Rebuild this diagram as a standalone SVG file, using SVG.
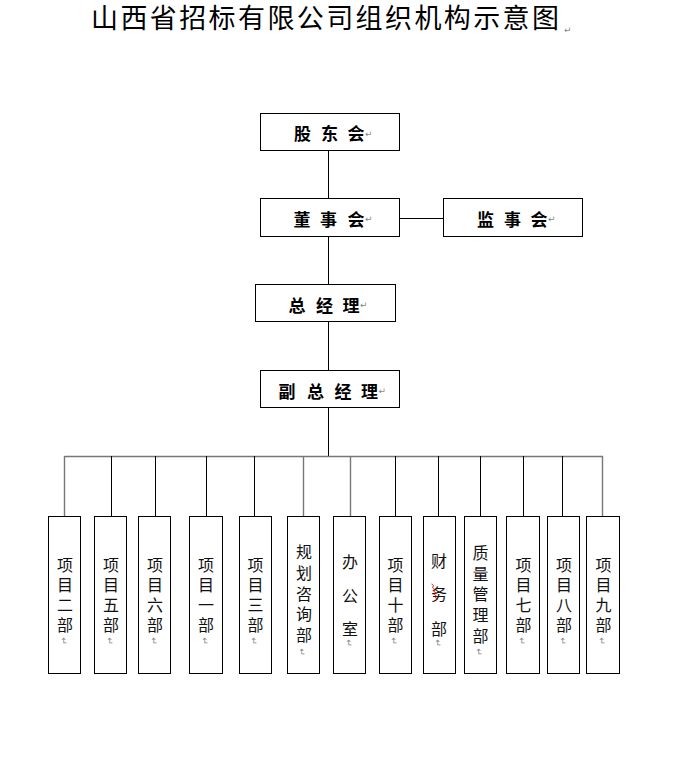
<svg xmlns="http://www.w3.org/2000/svg" width="674" height="762" viewBox="0 0 674 762">
<style>
.box{fill:#fff;stroke:#000;stroke-width:1}
.ln{stroke:#000;stroke-width:1;fill:none}
.lg{stroke:#777;stroke-width:1.4;fill:none}
.title{font-family:"Noto Sans CJK SC","Noto Sans CJK JP",sans-serif;font-size:27px;fill:#000;letter-spacing:2.4px}
.hd{font-family:"Noto Sans CJK SC","Noto Sans CJK JP",sans-serif;font-size:17px;font-weight:bold;fill:#000}
.vt{font-family:"Noto Sans CJK SC","Noto Sans CJK JP",sans-serif;font-size:16px;fill:#111}
.pm{font-family:"DejaVu Sans",sans-serif;font-size:9px;fill:#888}
</style>
<rect width="674" height="762" fill="#fff"/>
<g id="title">
<text class="title" x="91" y="16" dominant-baseline="central">山西省招标有限公司组织机构示意图</text>
<text class="pm" x="564" y="33">↵</text>
</g>
<g id="connectors">
<path class="ln" d="M328.5 150V198 M399.5 218.5H443.5 M328.5 237V284 M328.5 322V370 M328.5 408V456"/>
<path class="lg" d="M64.5 456.5H603"/>
<path class="lg" d="M64.5 456V516 M303.5 456V516 M350.5 456V516 M602.5 456V516"/>
<path class="ln" d="M111.5 456V516 M155.5 456V516 M206.5 456V516 M254.5 456V516 M395.5 456V516 M438.5 456V516 M480.5 456V516 M523.5 456V516 M562.5 456V516"/>
</g>
<g id="n-gudonghui">
<rect class="box" x="260.5" y="113.5" width="139" height="37"/>
<text class="hd" x="294 311 321 338 347.5" y="132" dominant-baseline="central" xml:space="preserve">股 东 会</text>
<text class="pm" x="365" y="137">↵</text>
</g>
<g id="n-dongshihui">
<rect class="box" x="260.5" y="198.5" width="139" height="38"/>
<text class="hd" x="293.5 311 320 337 347.5" y="218" dominant-baseline="central" xml:space="preserve">董 事 会</text>
<text class="pm" x="365" y="222">↵</text>
</g>
<g id="n-jianshihui">
<rect class="box" x="443.5" y="198.5" width="139" height="38"/>
<text class="hd" x="477 495 504 521 530.5" y="218" dominant-baseline="central" xml:space="preserve">监 事 会</text>
<text class="pm" x="548" y="222">↵</text>
</g>
<g id="n-zongjingli">
<rect class="box" x="255.5" y="284.5" width="140" height="37"/>
<text class="hd" x="288.5 305 316 332 342.5" y="304" dominant-baseline="central" xml:space="preserve">总 经 理</text>
<text class="pm" x="360" y="308">↵</text>
</g>
<g id="n-fuzongjingli">
<rect class="box" x="260.5" y="370.5" width="139" height="37"/>
<text class="hd" x="278.5 295 307 323 334.5 351 361" y="390" dominant-baseline="central" xml:space="preserve">副 总 经 理</text>
<text class="pm" x="378.5" y="394">↵</text>
</g>
<g id="n-xm2">
<rect class="box" x="48.5" y="516.5" width="32" height="157"/>
<text class="vt" x="65 65 65 65" y="564 584 604 624" text-anchor="middle" dominant-baseline="central">项目二部</text>
<text class="pm" transform="translate(63.5,641) rotate(90)" text-anchor="middle" dominant-baseline="central">↵</text>
</g>
<g id="n-xm5">
<rect class="box" x="94.5" y="516.5" width="32" height="157"/>
<text class="vt" x="111 111 111 111" y="564 584 604 624" text-anchor="middle" dominant-baseline="central">项目五部</text>
<text class="pm" transform="translate(109.5,641) rotate(90)" text-anchor="middle" dominant-baseline="central">↵</text>
</g>
<g id="n-xm6">
<rect class="box" x="138.5" y="516.5" width="32" height="157"/>
<text class="vt" x="155 155 155 155" y="564 584 604 624" text-anchor="middle" dominant-baseline="central">项目六部</text>
<text class="pm" transform="translate(153.5,641) rotate(90)" text-anchor="middle" dominant-baseline="central">↵</text>
</g>
<g id="n-xm1">
<rect class="box" x="189.5" y="516.5" width="33" height="157"/>
<text class="vt" x="206 206 206 206" y="564 584 604 624" text-anchor="middle" dominant-baseline="central">项目一部</text>
<text class="pm" transform="translate(204.5,641) rotate(90)" text-anchor="middle" dominant-baseline="central">↵</text>
</g>
<g id="n-xm3">
<rect class="box" x="239.5" y="516.5" width="32" height="157"/>
<text class="vt" x="255.5 255.5 255.5 255.5" y="564 584 604 624" text-anchor="middle" dominant-baseline="central">项目三部</text>
<text class="pm" transform="translate(254,641) rotate(90)" text-anchor="middle" dominant-baseline="central">↵</text>
</g>
<g id="n-guihua">
<rect class="box" x="287.5" y="516.5" width="32" height="157"/>
<text class="vt" x="304 304 304 304 304" y="551 571.5 592.5 613 634" text-anchor="middle" dominant-baseline="central">规划咨询部</text>
<text class="pm" transform="translate(302,652) rotate(90)" text-anchor="middle" dominant-baseline="central">↵</text>
</g>
<g id="n-bangongshi">
<rect class="box" x="333.5" y="516.5" width="32" height="157"/>
<text class="vt" x="350 350 350" y="561 594.5 627.5" text-anchor="middle" dominant-baseline="central">办公室</text>
<text class="pm" transform="translate(348.5,643) rotate(90)" text-anchor="middle" dominant-baseline="central">↵</text>
</g>
<g id="n-xm10">
<rect class="box" x="379.5" y="516.5" width="32" height="157"/>
<text class="vt" x="395.5 395.5 395.5 395.5" y="564 584 604 624" text-anchor="middle" dominant-baseline="central">项目十部</text>
<text class="pm" transform="translate(394,641) rotate(90)" text-anchor="middle" dominant-baseline="central">↵</text>
</g>
<g id="n-caiwu">
<rect class="box" x="423.5" y="516.5" width="32" height="157"/>
<text class="vt" x="439 439 439" y="560 593 628" text-anchor="middle" dominant-baseline="central">财务部</text>
<path d="M431.5 584 l2 1.5 l-1 2 l2 1.5 l-1 2 l2 1.5 l-1 2 l2 1.5 l-1 2 l2 1.5" fill="none" stroke="#e00" stroke-width="0.9"/>
<text class="pm" transform="translate(437.5,643) rotate(90)" text-anchor="middle" dominant-baseline="central">↵</text>
</g>
<g id="n-zhiliang">
<rect class="box" x="464.5" y="516.5" width="32" height="157"/>
<text class="vt" x="480.5 480.5 480.5 480.5 480.5" y="552 572.5 593 614 634.5" text-anchor="middle" dominant-baseline="central">质量管理部</text>
<text class="pm" transform="translate(479,652) rotate(90)" text-anchor="middle" dominant-baseline="central">↵</text>
</g>
<g id="n-xm7">
<rect class="box" x="506.5" y="516.5" width="33" height="157"/>
<text class="vt" x="523.5 523.5 523.5 523.5" y="564 584 604 624" text-anchor="middle" dominant-baseline="central">项目七部</text>
<text class="pm" transform="translate(521.5,641) rotate(90)" text-anchor="middle" dominant-baseline="central">↵</text>
</g>
<g id="n-xm8">
<rect class="box" x="547.5" y="516.5" width="32" height="157"/>
<text class="vt" x="564 564 564 564" y="564 584 604 624" text-anchor="middle" dominant-baseline="central">项目八部</text>
<text class="pm" transform="translate(562.5,641) rotate(90)" text-anchor="middle" dominant-baseline="central">↵</text>
</g>
<g id="n-xm9">
<rect class="box" x="586.5" y="516.5" width="33" height="157"/>
<text class="vt" x="603.5 603.5 603.5 603.5" y="564 584 604 624" text-anchor="middle" dominant-baseline="central">项目九部</text>
<text class="pm" transform="translate(601.5,641) rotate(90)" text-anchor="middle" dominant-baseline="central">↵</text>
</g>
</svg>
